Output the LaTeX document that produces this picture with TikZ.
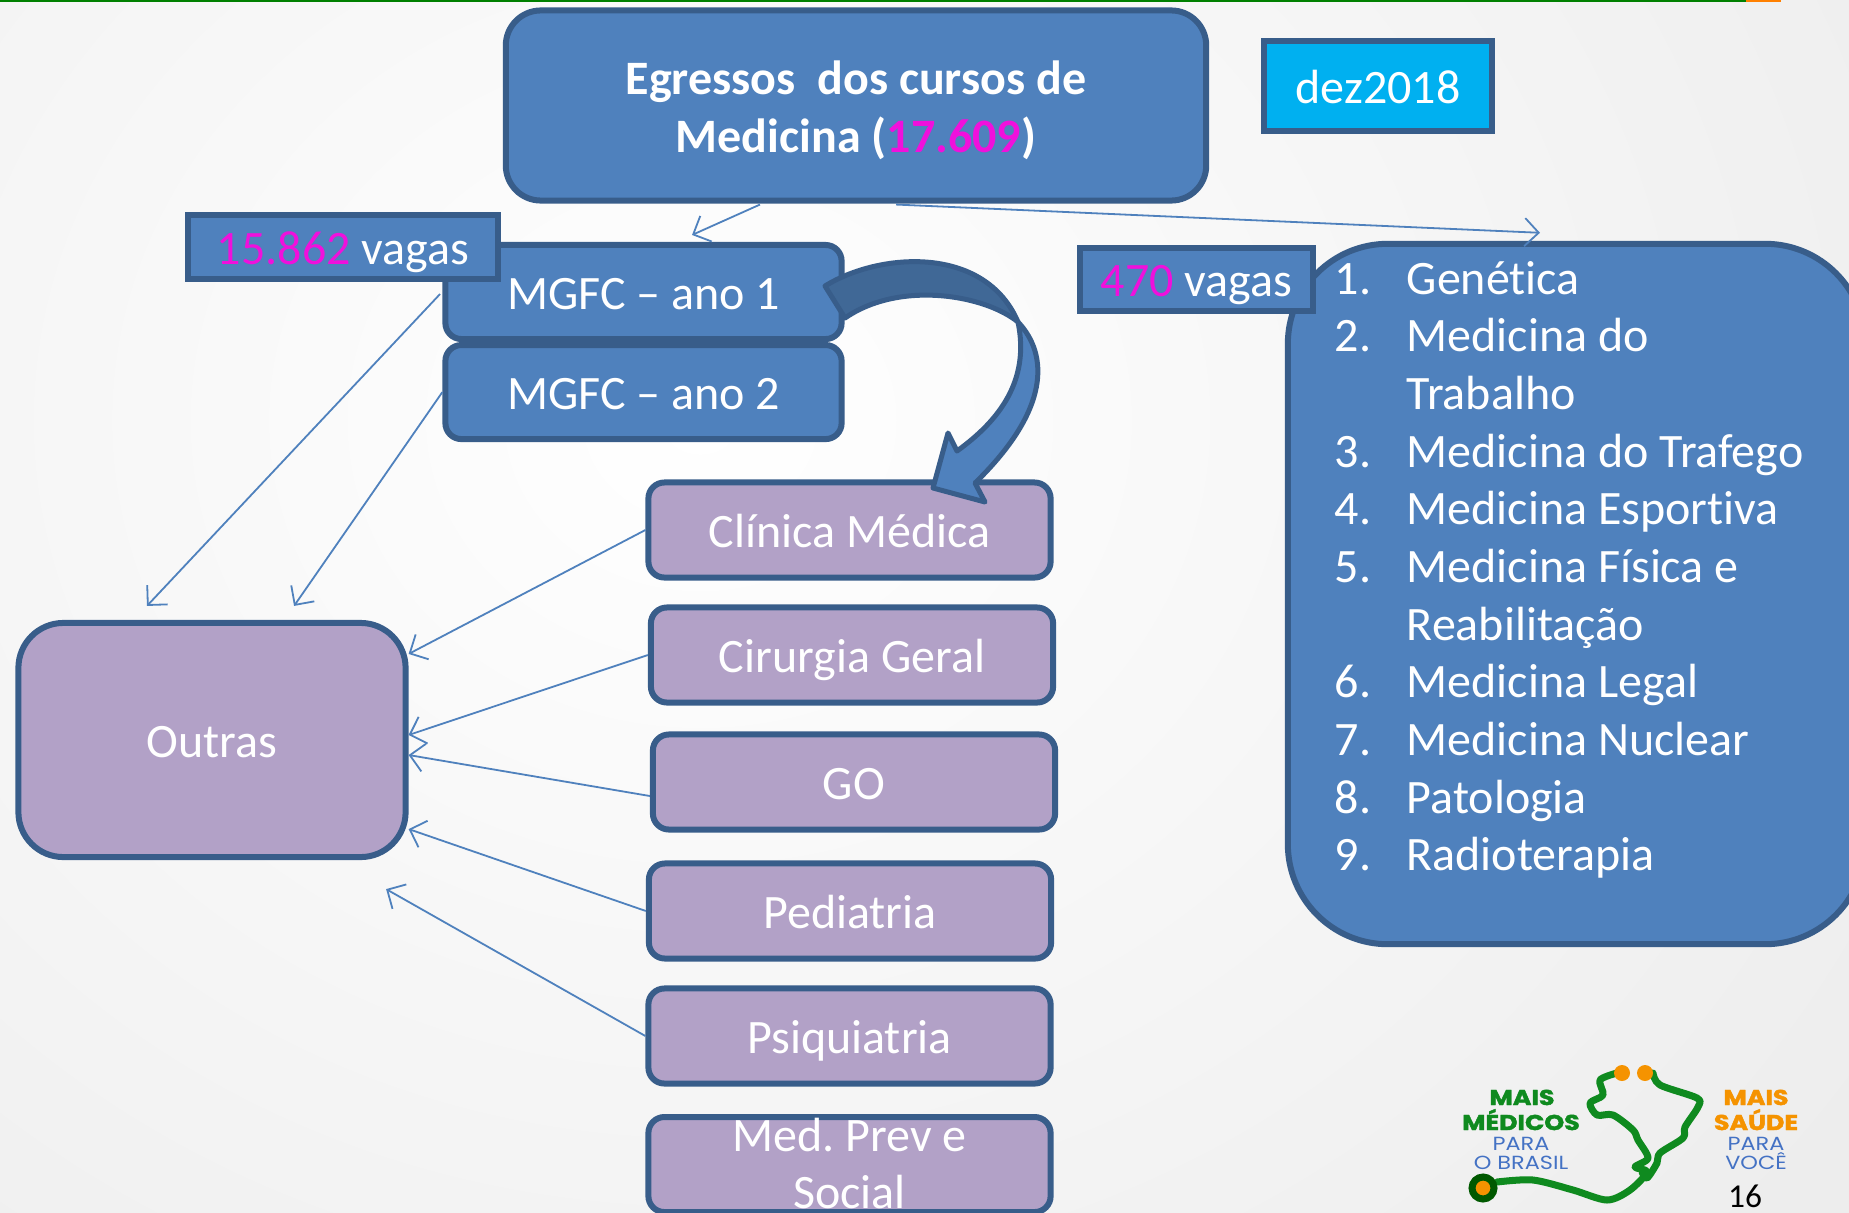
\documentclass[tikz,border=0pt]{standalone}
\usepackage{fontspec}
\setmainfont[Ligatures=NoCommon]{Carlito}
\newfontfamily\logofont[FakeStretch=1.18, BoldFeatures={FakeBold=2}]{Poppins}
\usepackage{tikz}
\usetikzlibrary{positioning, arrows.meta, calc}
\definecolor{boxblue}{HTML}{4F81BD}
\definecolor{boxedge}{HTML}{385D8A}
\definecolor{boxpurple}{HTML}{B2A1C7}
\definecolor{darkband}{HTML}{406896}
\definecolor{skyfill}{HTML}{00B0F0}
\definecolor{vagascolor}{HTML}{F010DC}
\definecolor{logogreen}{HTML}{0F8A1F}
\definecolor{logoorange}{HTML}{F59300}
\definecolor{logoblue}{HTML}{4472C4}
\newcommand{\Vagas}[1]{\textcolor{vagascolor}{#1}}
\newcommand{\Logo}[1]{\logofont\fontsize{#1}{#1}\selectfont}
\tikzset{
    box/.style={draw=boxedge, line width=0.06cm, fill=boxblue, text=white, inner sep=0pt,
      font=\fontsize{13.65}{16.4}\selectfont, align=center},
    oneline/.style={text height=0.42cm, text depth=0.08cm},
    yearbox/.style={box, oneline, rounded corners=0.16cm, minimum width=3.96cm, minimum height=0.94cm},
    specbox/.style={box, rounded corners=0.16cm, fill=boxpurple, minimum width=4.02cm, minimum height=0.95cm},
    tagbox/.style={box, oneline, minimum height=0.63cm},
    link/.style={-{Straight Barb[length=0.14cm, width=0.28cm]}, draw=boxblue, line width=0.018cm},
    bigarrow/.style={draw=boxedge, line width=0.05cm, line join=round},
    logoline/.style={draw=logogreen, line width=0.07cm, line cap=round, line join=round},
    logotext/.style={inner sep=0pt, anchor=base},
}

\begin{document}
\begin{tikzpicture}[x=0.01cm, y=-0.01cm]
    \useasboundingbox (0,0) rectangle (1849,1212);
    \clip (0,0) rectangle (1849,1212);
    \shade[inner color=white, outer color=black!7] (-700,-800) rectangle (2100,1640);
    \fill[green!50!black] (0,0) rectangle (1746,2);
    \fill[orange] (1746,0) rectangle (1781,2);

    \node[box, rounded corners=0.35cm, minimum width=7cm, minimum height=1.9cm, text height=1.01cm,
      font=\fontsize{13.65}{16.6}\selectfont\bfseries]
      (egressos) at (856,105.5) {Egressos\ \ dos cursos de\\Medicina (\Vagas{17.609})};
    \node[box, oneline, fill=skyfill, minimum width=2.28cm, minimum height=0.9cm] (dez) at (1378,86) {dez2018};

    \node[yearbox] (mgfc1) at (643.5,292) {MGFC -- ano 1};
    \node[yearbox, below=0cm of mgfc1] (mgfc2) {MGFC -- ano 2};
    \node[tagbox, minimum width=3.1cm] (vagasA) at (343,247) {\Vagas{15.862} vagas};

    \node[specbox, oneline] (clinica) at (849.5,530) {Clínica Médica};
    \node[specbox, oneline] (cirurgia) at (852,655) {Cirurgia Geral};
    \node[specbox, oneline] (go) at (854,782) {GO};
    \node[specbox, oneline] (pediatria) at (850,911) {Pediatria};
    \node[specbox, oneline] (psiquiatria) at (849.5,1036) {Psiquiatria};
    \node[specbox, anchor=north, text height=0.89cm] (medprev) at (849.5,1114) {Med.\ Prev e\\Social};
    \node[specbox, oneline, rounded corners=0.45cm, minimum width=3.87cm, minimum height=2.34cm] (outras) at (212,740) {Outras};

    \node[box, rounded corners=1cm, minimum width=5.77cm, minimum height=7cm] (lista) at (1576.5,594) {};
    \node[tagbox, minimum width=2.33cm] (vagasB) at (1196.5,279.5) {\Vagas{470} vagas};
    \node[anchor=north west, inner sep=0pt, text=white, font=\fontsize{13.65}{16.4}\selectfont] (listatext) at (1334,253) {%
      \begin{tabular}{@{}p{0.72cm}@{}l@{}}
        1. & Genética\\
        2. & Medicina do\\
           & Trabalho\\
        3. & Medicina do Trafego\\
        4. & Medicina Esportiva\\
        5. & Medicina Física e\\
           & Reabilitação\\
        6. & Medicina Legal\\
        7. & Medicina Nuclear\\
        8. & Patologia\\
        9. & Radioterapia
      \end{tabular}};

    \draw[link] ([shift={(-0.96cm,-0.01cm)}]egressos.south) -- ([shift={(0.485cm,0.07cm)}]mgfc1.north);
    \draw[link] ([shift={(0.4cm,-0.01cm)}]egressos.south) -- ([shift={(-0.365cm,0.08cm)}]lista.north);
    \draw[link] ([shift={(0.97cm,-0.125cm)}]vagasA.south) -- ([shift={(-0.65cm,0.14cm)}]outras.north);
    \draw[link] (mgfc2.west) -- ([shift={(0.82cm,0.14cm)}]outras.north);
    \draw[link] (clinica.west) -- ([yshift=0.86cm]outras.east);
    \draw[link] (cirurgia.west) -- ([yshift=0.05cm]outras.east);
    \draw[link] ([yshift=-0.14cm]go.west) -- ([yshift=-0.15cm]outras.east);
    \draw[link] (pediatria.west) -- ([yshift=-0.89cm]outras.east);
    \draw[link] (psiquiatria.west) -- ([shift={(-0.225cm,-0.29cm)}]outras.south east);

    \draw[bigarrow, fill=boxblue] (1018,322) .. controls (1049,355) and (1050,410) .. (975,483)
      -- (985,502) -- (933,488) -- (948,433) -- (957,451)
      .. controls (1000,420) and (1030,380) .. (1018,322) -- cycle;
    \draw[bigarrow, fill=darkband] (825,286) .. controls (880,252) and (985,245) .. (1018,322)
      .. controls (985,295) and (900,280) .. (845,318) -- cycle;

    \draw[logoline] plot[smooth, tension=0.5] coordinates {(1497,1182) (1533,1180) (1573,1190) (1607,1200)
      (1630,1190) (1647,1172) (1635,1167) (1648,1158) (1638,1140) (1633,1130) (1613,1115) (1597,1115)
      (1590,1103) (1603,1095) (1600,1080) (1617,1073)};
    \draw[logoline] plot[smooth, tension=0.5] coordinates {(1653,1073) (1660,1085) (1697,1098) (1698,1107)
      (1685,1127) (1683,1138) (1660,1153) (1657,1163) (1647,1178) (1642,1172)};
    \draw[draw=green!35!black, line width=0.07cm, fill=logoorange] (1483,1188) circle (11);
    \fill[logoorange] (1622,1073) circle (8);
    \fill[logoorange] (1645,1073) circle (8);

    \node[logotext, text=logogreen, font=\Logo{6.1}\bfseries] (maisA) at (1522,1105) {MAIS};
    \node[logotext, text=logogreen, font=\Logo{6.1}\bfseries] (medicos) at (1521,1130) {MÉDICOS};
    \node[logotext, text=logoblue, font=\Logo{5.4}] (paraA) at (1521,1150) {PARA};
    \node[logotext, text=logoblue, font=\Logo{5.4}] (brasil) at (1521,1169) {O BRASIL};
    \node[logotext, text=logoorange, font=\Logo{6.1}\bfseries] (maisB) at (1756,1105) {MAIS};
    \node[logotext, text=logoorange, font=\Logo{6.1}\bfseries] (saude) at (1756,1130) {SAÚDE};
    \node[logotext, text=logoblue, font=\Logo{5.4}] (paraB) at (1756,1150) {PARA};
    \node[logotext, text=logoblue, font=\Logo{5.4}] (voce) at (1756,1169) {VOCÊ};
    \node[logotext, font=\fontsize{9.5}{11}\selectfont] (pagina) at (1745,1207) {16};
\end{tikzpicture}
\end{document}
